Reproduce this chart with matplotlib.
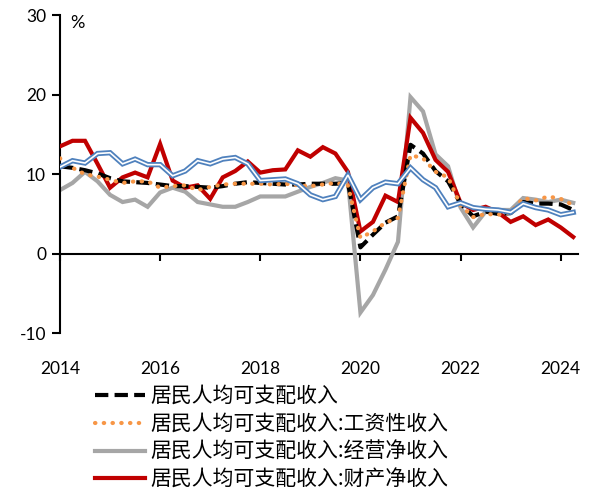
import matplotlib
matplotlib.use("Agg")
import matplotlib.pyplot as plt

plt.rcParams['font.family'] = ['Lato', 'Noto Sans CJK SC', 'DejaVu Sans']

year_ticks = [0, 8, 16, 24, 32, 40]
year_labels = ['2014', '2016', '2018', '2020', '2022', '2024']

total = [11.0, 10.8, 10.5, 10.1, 9.5, 9.1, 9.0, 8.9, 8.7, 8.5, 8.5, 8.4, 8.3, 8.5, 8.8, 9.0,
         8.9, 8.8, 8.7, 8.7, 8.8, 8.8, 8.8, 8.9, 0.8, 2.4, 3.9, 4.7, 13.7, 12.6, 10.4, 9.1,
         6.3, 4.7, 5.3, 5.0, 5.1, 6.5, 6.3, 6.3, 6.2, 5.5]
wage = [12.0, 10.8, 10.0, 9.7, 9.3, 8.9, 9.1, 9.1, 8.3, 8.5, 8.6, 8.0, 8.4, 8.7, 8.8, 8.8,
        8.8, 8.7, 8.8, 8.6, 8.5, 8.7, 8.9, 8.6, 2.0, 2.8, 3.9, 4.5, 12.4, 12.0, 10.3, 9.6,
        6.1, 4.6, 5.0, 4.9, 5.2, 7.0, 6.7, 7.2, 6.9, 6.1]
operating = [8.0, 8.9, 10.3, 9.1, 7.4, 6.5, 6.8, 5.9, 7.7, 8.3, 7.8, 6.5, 6.2, 5.9, 5.9, 6.5,
             7.2, 7.2, 7.2, 7.8, 8.4, 8.9, 9.5, 9.2, -7.4, -5.2, -2.0, 1.5, 19.7, 17.9, 12.5, 11.0,
             5.8, 3.3, 5.3, 5.5, 5.5, 7.0, 6.8, 6.5, 6.8, 6.4]
prop = [13.5, 14.2, 14.2, 11.3, 8.3, 9.6, 10.2, 9.6, 13.8, 9.2, 8.3, 8.6, 6.9, 9.6, 10.4, 11.6,
        10.2, 10.5, 10.6, 13.0, 12.2, 13.4, 12.6, 10.3, 2.8, 4.0, 7.3, 6.5, 17.1, 15.2, 11.8, 10.3,
        6.4, 5.5, 5.9, 5.2, 4.0, 4.7, 3.6, 4.3, 3.3, 2.1]
transfer = [10.9, 11.7, 11.4, 12.6, 12.7, 11.3, 11.9, 11.2, 11.2, 9.8, 10.4, 11.7, 11.3, 11.9, 12.1, 11.3,
            9.2, 9.3, 9.4, 8.8, 7.4, 6.8, 7.2, 9.9, 6.8, 8.3, 9.0, 8.8, 10.8, 9.3, 8.3, 5.9,
            6.4, 5.8, 5.6, 5.5, 5.2, 6.3, 5.8, 5.5, 4.9, 5.2]

labels = ['居民人均可支配收入', '居民人均可支配收入:工资性收入',
          '居民人均可支配收入:经营净收入', '居民人均可支配收入:财产净收入']

x = list(range(len(total)))

fig = plt.figure(figsize=(5.95, 4.9), dpi=100)
ax = fig.add_axes([0.1008, 0.320, 0.87, 0.649])

ax.plot(x, operating, color='#A6A6A6', lw=3.0, zorder=2, label=labels[2], solid_joinstyle='miter')
ax.plot(x, prop, color='#C00000', lw=3.0, zorder=3, label=labels[3], solid_joinstyle='miter')
ax.plot(x, total, color='black', lw=3.0, ls=(0, (3.2, 1.5)), zorder=4, label=labels[0])
ax.plot(x, wage, color='#F79646', lw=3.0, ls=(0, (0.1, 2.0)), dash_capstyle='round', zorder=5, label=labels[1])
ax.plot(x, transfer, color='#4F81BD', lw=3.8, zorder=6, solid_joinstyle='miter')
ax.plot(x, transfer, color='white', lw=1.2, zorder=7, solid_joinstyle='miter')

ax.set_xlim(0, 41.35)
ax.set_ylim(-10, 30)
ax.set_yticks([-10, 0, 10, 20, 30])
ax.set_yticklabels(['-10', '0', '10', '20', '30'])
ax.set_xticks(year_ticks)
ax.set_xticklabels(year_labels)

for s in ['top', 'right']:
    ax.spines[s].set_visible(False)
ax.spines['left'].set_linewidth(1.5)
ax.spines['bottom'].set_linewidth(1.5)
ax.spines['bottom'].set_position(('data', 0))
ax.spines['bottom'].set_zorder(1)

ax.tick_params(axis='y', direction='out', length=6, width=1.5, pad=4, labelsize=12.5)
ax.tick_params(axis='x', direction='out', length=5, width=1.5, pad=72, labelsize=12.5)

ax.text(0.02, 1.0, '%', transform=ax.transAxes, ha='left', va='top', fontsize=13)

handles, labs = ax.get_legend_handles_labels()
order = [labs.index(l) for l in labels]
leg = fig.legend([handles[i] for i in order], [labs[i] for i in order],
                 loc='upper left', bbox_to_anchor=(0.1597, 0.214), frameon=False,
                 prop={'family': ['Noto Sans CJK SC', 'DejaVu Sans'], 'size': 15},
                 handlelength=2.4, handletextpad=0.25, labelspacing=0.28, borderpad=0, borderaxespad=0)

fig.savefig('out.png', dpi=100)
